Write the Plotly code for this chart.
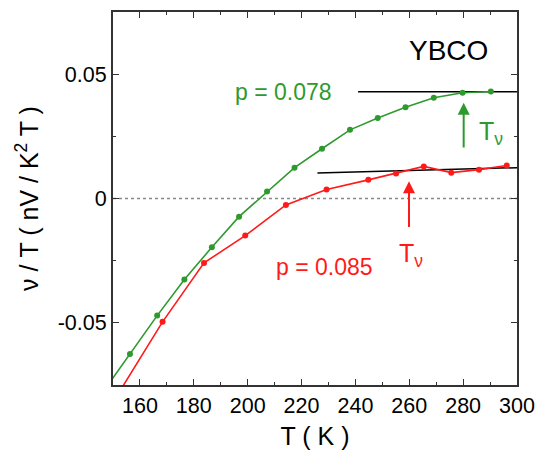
import plotly.graph_objects as go

# ---- data ----
T_078 = [146.1, 156.3, 166.4, 176.5, 186.7, 196.8, 207.2, 217.4, 227.6, 238.0, 248.3, 258.6, 269.1, 279.8, 290.3]
v_078 = [-0.0781, -0.0625, -0.0471, -0.0326, -0.0196, -0.0073, 0.0028, 0.0124, 0.0200, 0.0276, 0.0324, 0.0367, 0.0405, 0.0425, 0.0430]

T_085 = [152.0, 168.4, 183.8, 199.1, 214.2, 229.3, 244.8, 255.1, 265.4, 275.6, 285.9, 296.2]
v_085 = [-0.0784, -0.0496, -0.0259, -0.0149, -0.0026, 0.0036, 0.0075, 0.0101, 0.0129, 0.0104, 0.0116, 0.0133]

# straight-line fits (high-T tangent)
fit_078_T = [241.0, 300.0]
fit_078_v = [0.0429, 0.0429]
fit_085_T = [225.9, 300.0]
fit_085_v = [0.0103, 0.0124]

# T_nu arrows (tail -> tip)
arrow_078_T = 280.2
arrow_078_v = [0.0199, 0.0385]
arrow_085_T = 259.9
arrow_085_v = [-0.0121, 0.0069]

x_ticks = [160, 180, 200, 220, 240, 260, 280, 300]
y_ticks = [-0.05, 0, 0.05]
y_tick_text = ["-0.05", "0", "0.05"]

GREEN = "#2e9a2e"
RED = "#ff1a1a"
FONT = "Liberation Sans, Arial, Helvetica, sans-serif"

fig = go.Figure()

fig.add_trace(go.Scatter(x=fit_078_T, y=fit_078_v, mode="lines",
                         line=dict(color="black", width=1.5), showlegend=False, hoverinfo="skip"))
fig.add_trace(go.Scatter(x=fit_085_T, y=fit_085_v, mode="lines",
                         line=dict(color="black", width=1.5), showlegend=False, hoverinfo="skip"))

fig.add_trace(go.Scatter(x=T_078, y=v_078, mode="lines+markers",
                         line=dict(color=GREEN, width=1.6),
                         marker=dict(color=GREEN, size=6), showlegend=False))
fig.add_trace(go.Scatter(x=T_085, y=v_085, mode="lines+markers",
                         line=dict(color=RED, width=1.6),
                         marker=dict(color=RED, size=6), showlegend=False))

# zero reference
fig.add_shape(type="line", xref="paper", x0=0, x1=1, yref="y", y0=0, y1=0,
              line=dict(color="#888888", width=1.3, dash="dot"), layer="below")

annotations = [
    dict(x=arrow_078_T, y=arrow_078_v[1], ax=arrow_078_T, ay=arrow_078_v[0],
         xref="x", yref="y", axref="x", ayref="y", showarrow=True,
         arrowhead=2, arrowsize=1.2, arrowwidth=2, arrowcolor=GREEN, text=""),
    dict(x=arrow_085_T, y=arrow_085_v[1], ax=arrow_085_T, ay=arrow_085_v[0],
         xref="x", yref="y", axref="x", ayref="y", showarrow=True,
         arrowhead=2, arrowsize=1.2, arrowwidth=2, arrowcolor=RED, text=""),
    dict(x=213.2, y=0.0427, xref="x", yref="y", text="p = 0.078", showarrow=False,
         font=dict(color=GREEN, size=23, family=FONT)),
    dict(x=228.4, y=-0.0275, xref="x", yref="y", text="p = 0.085", showarrow=False,
         font=dict(color=RED, size=23, family=FONT)),
    dict(x=274.7, y=0.0597, xref="x", yref="y", text="YBCO", showarrow=False,
         font=dict(color="black", size=28, family=FONT)),
    dict(x=290.2, y=0.0262, xref="x", yref="y", text="T<sub>ν</sub>", showarrow=False,
         font=dict(color=GREEN, size=25, family=FONT)),
    dict(x=260.8, y=-0.0226, xref="x", yref="y", text="T<sub>ν</sub>", showarrow=False,
         font=dict(color=RED, size=25, family=FONT)),
]

axis_common = dict(
    showline=True, linecolor="#333333", linewidth=2, mirror="ticks",
    ticks="inside", ticklen=6, tickwidth=1.2, tickcolor="#333333",
    showgrid=False, zeroline=False,
    tickfont=dict(size=21.5, color="black", family=FONT),
)

fig.update_layout(
    width=545, height=456,
    margin=dict(l=113, r=24, t=10, b=67),
    paper_bgcolor="white", plot_bgcolor="white",
    font=dict(family=FONT, color="black"),
    annotations=annotations,
    xaxis=dict(range=[150, 300], tickvals=x_ticks,
               minor=dict(dtick=10, tick0=150, ticks="inside", ticklen=3, tickcolor="#333333"),
               title=dict(text="T ( K )", font=dict(size=25, family=FONT), standoff=11),
               **axis_common),
    yaxis=dict(range=[-0.075, 0.075], tickvals=y_ticks, ticktext=y_tick_text,
               minor=dict(dtick=0.025, tick0=0, ticks="inside", ticklen=3, tickcolor="#333333"),
               title=dict(text="ν / T ( nV / K<sup>2</sup> T )", font=dict(size=25, family=FONT), standoff=12),
               **axis_common),
)

fig.write_html("out.html", config={"displayModeBar": False})

# remove the browser's default body margin so the figure sits at the page origin
with open("out.html", "r", encoding="utf-8") as f:
    html = f.read()
html = html.replace("<head>", "<head><style>html,body{margin:0;padding:0;overflow:hidden;}</style>", 1)
with open("out.html", "w", encoding="utf-8") as f:
    f.write(html)
